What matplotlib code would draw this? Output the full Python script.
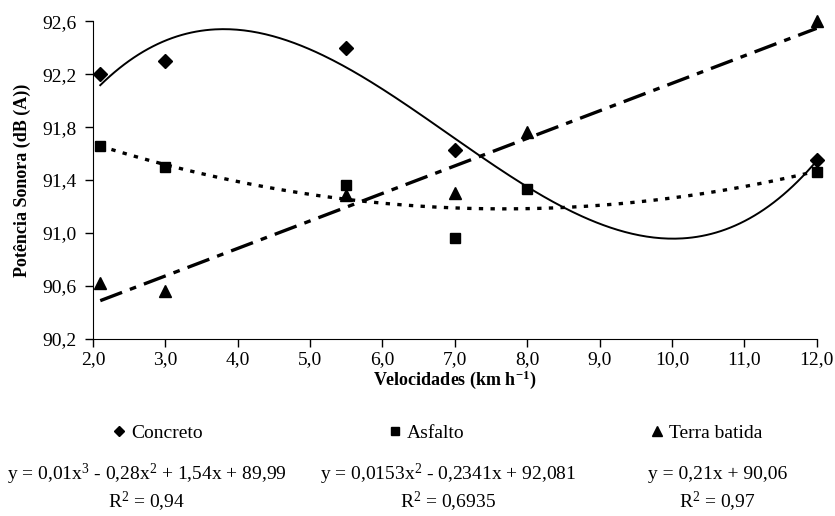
import numpy as np
import matplotlib
matplotlib.use('Agg')
import matplotlib.pyplot as plt
from matplotlib.lines import Line2D
from matplotlib.ticker import FuncFormatter

plt.rcParams['font.family'] = ['Liberation Serif', 'DejaVu Serif']
plt.rcParams['mathtext.fontset'] = 'custom'
plt.rcParams['mathtext.rm'] = 'Liberation Serif'
plt.rcParams['mathtext.it'] = 'Liberation Serif:italic'
plt.rcParams['mathtext.bf'] = 'Liberation Serif:bold'

# data
vel = [2.1, 3.0, 5.5, 7.0, 8.0, 12.0]
vel_concreto = [2.1, 3.0, 5.5, 7.0, 12.0]
concreto = [92.20, 92.30, 92.40, 91.63, 91.55]
asfalto = [91.66, 91.50, 91.36, 90.96, 91.33, 91.46]
terra = [90.62, 90.56, 91.29, 91.30, 91.76, 92.60]

eq_texts = ['y = 0,01x$^{3}$ - 0,28x$^{2}$ + 1,54x + 89,99',
            'y = 0,0153x$^{2}$ - 0,2341x + 92,081',
            'y = 0,21x + 90,06']
r2_texts = ['R$^{2}$ = 0,94', 'R$^{2}$ = 0,6935', 'R$^{2}$ = 0,97']

fig = plt.figure(figsize=(8.35, 5.16), dpi=100)
ax = fig.add_axes([0.1114, 0.343, 0.8667, 0.616])

xs = np.linspace(2.1, 12.0, 300)

# trend lines (polynomial fits as in the original spreadsheet)
c3 = np.polyfit(vel_concreto, concreto, 3)
c2 = np.polyfit(vel, asfalto, 2)
c1 = np.polyfit(vel, terra, 1)
ax.plot(xs, np.polyval(c3, xs), color='black', lw=1.4, ls='-')
ax.plot(xs, np.polyval(c2, xs), color='black', lw=2.4, ls=(0, (1.3, 2.2)))
ax.plot(xs, np.polyval(c1, xs), color='black', lw=2.4, ls=(0, (7, 2.5, 2, 2.5)))

ax.plot(vel_concreto, concreto, 'D', color='black', ms=7, clip_on=False)
ax.plot(vel, asfalto, 's', color='black', ms=7.5, clip_on=False)
ax.plot(vel, terra, '^', color='black', ms=8.5, clip_on=False)

ax.set_xlim(2.0, 12.0)
ax.set_ylim(90.2, 92.6)
ax.set_xticks(np.arange(2.0, 12.01, 1.0))
ax.set_yticks(np.arange(90.2, 92.61, 0.4))
fmt = FuncFormatter(lambda v, p: ('%.1f' % v).replace('.', ','))
ax.xaxis.set_major_formatter(fmt)
ax.yaxis.set_major_formatter(fmt)
ax.tick_params(labelsize=14, direction='out', length=6, width=1, pad=6)
ax.tick_params(axis='x', pad=3)
ax.spines['top'].set_visible(False)
ax.spines['right'].set_visible(False)

ax.set_ylabel('Potência Sonora (dB (A))', fontsize=13, fontweight='bold', labelpad=8)
ax.set_xlabel('Velocidades (km h$^{\\mathbf{-1}}$)', fontsize=13, fontweight='bold', labelpad=0)

handles = [Line2D([], [], ls='none', marker='D', color='black', ms=5),
           Line2D([], [], ls='none', marker='s', color='black', ms=5.5),
           Line2D([], [], ls='none', marker='^', color='black', ms=6.5)]
fig.legend(handles, ['Concreto', 'Asfalto', 'Terra batida'], ncol=3,
           loc='center left', bbox_to_anchor=(0.115, 0.161), frameon=False,
           fontsize=14, handlelength=0.6, handletextpad=0.3, columnspacing=9.6)

for xc, eq, r2 in zip([0.176, 0.537, 0.859], eq_texts, r2_texts):
    fig.text(xc, 0.08, eq, ha='center', va='center', fontsize=14)
    fig.text(xc, 0.028, r2, ha='center', va='center', fontsize=14)

fig.savefig('out.png', dpi=100)
